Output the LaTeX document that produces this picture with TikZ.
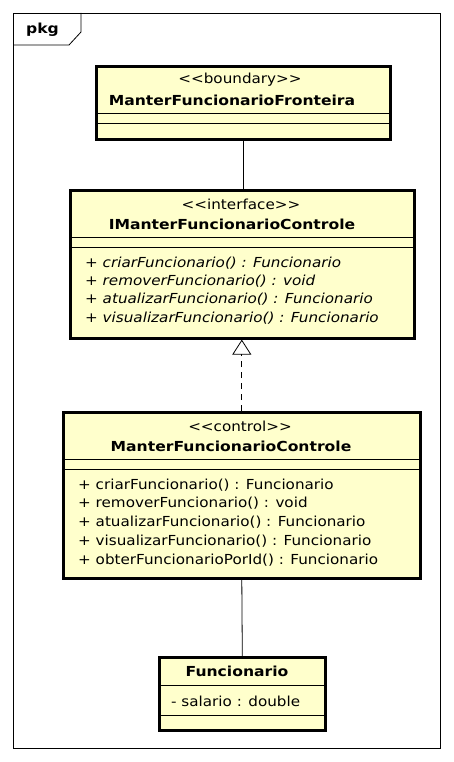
\documentclass[tikz,border=0pt]{standalone}
\usepackage{fontspec}
\setmainfont{DejaVu Sans}[FakeStretch=1.1, BoldFeatures={FakeStretch=1.13}]
\usetikzlibrary{arrows.meta,positioning}
\definecolor{umlfill}{RGB}{255,255,204}
\newcommand{\ostereo}{<\kern0pt<}
\newcommand{\cstereo}{>\kern0pt>}

\begin{document}
\begin{tikzpicture}[x=1pt,y=-1pt,
        umlbox/.style={rectangle, draw, fill=umlfill, line width=2.6pt, anchor=north west, inner sep=0pt},
        sep/.style={line width=0.9pt},
        stereo/.style={font=\fontsize{13.8}{16}\selectfont, inner sep=0pt},
        cname/.style={font=\fontsize{13.8}{16}\selectfont\bfseries, inner sep=0pt},
        member/.style={font=\fontsize{13.8}{16}\selectfont, anchor=west, inner sep=0pt},
        link/.style={line width=0.8pt}
    ]
        \useasboundingbox (0,0) rectangle (453,762);

        % package frame
        \draw[line width=0.8pt] (13,13) rectangle (440,748);
        \draw[line width=0.8pt] (13,45) -- (69,45) -- (81,32) -- (81,13);
        \node[cname, anchor=west] (pkg) at (26,30) {pkg};

        % boundary class
        \node[umlbox, minimum width=294pt, minimum height=73pt] (fronteira) at (95,65) {};
        \node[stereo] at (240,80) {\ostereo boundary\cstereo};
        \node[cname] at (232,100) {ManterFuncionarioFronteira};
        \draw[sep] (95,113) -- (389,113);
        \draw[sep] (95,123) -- (389,123);

        % interface
        \node[umlbox, minimum width=344pt, minimum height=148pt] (icontrole) at (69,189) {};
        \node[stereo] at (241,204) {\ostereo interface\cstereo};
        \node[cname] at (232,224) {IManterFuncionarioControle};
        \draw[sep] (69,237) -- (413,237);
        \draw[sep] (69,247) -- (413,247);
        \node[member] at (85,263) {+ \textit{criarFuncionario() : Funcionario}};
        \node[member] at (85,281) {+ \textit{removerFuncionario() : void}};
        \node[member] at (85,299) {+ \textit{atualizarFuncionario() : Funcionario}};
        \node[member] at (85,318) {+ \textit{visualizarFuncionario() : Funcionario}};

        % control class
        \node[umlbox, minimum width=357pt, minimum height=166pt] (controle) at (62,411) {};
        \node[stereo] at (240,426) {\ostereo control\cstereo};
        \node[cname] at (231,446) {ManterFuncionarioControle};
        \draw[sep] (62,459) -- (419,459);
        \draw[sep] (62,469) -- (419,469);
        \node[member] at (78,485) {+ criarFuncionario() : Funcionario};
        \node[member] at (78,503) {+ removerFuncionario() : void};
        \node[member] at (78,522) {+ atualizarFuncionario() : Funcionario};
        \node[member] at (78,541) {+ visualizarFuncionario() : Funcionario};
        \node[member] at (78,560) {+ obterFuncionarioPorId() : Funcionario};

        % entity class
        \node[umlbox, minimum width=166pt, minimum height=73pt] (funcionario) at (158,656) {};
        \node[cname] at (237,671) {Funcionario};
        \draw[sep] (158,685) -- (324,685);
        \draw[sep] (158,715) -- (324,715);
        \node[member] at (171,701) {- salario : double};

        % connectors
        \draw[link] (fronteira.south) -- (fronteira.south |- icontrole.north);
        \draw[link, dashed, dash pattern=on 6pt off 5pt, -{Triangle[open, length=15pt, width=19pt]}] (controle.north) -- (controle.north |- icontrole.south);
        \draw[link] (controle.south) -- (funcionario.north);
    \end{tikzpicture}
\end{document}
